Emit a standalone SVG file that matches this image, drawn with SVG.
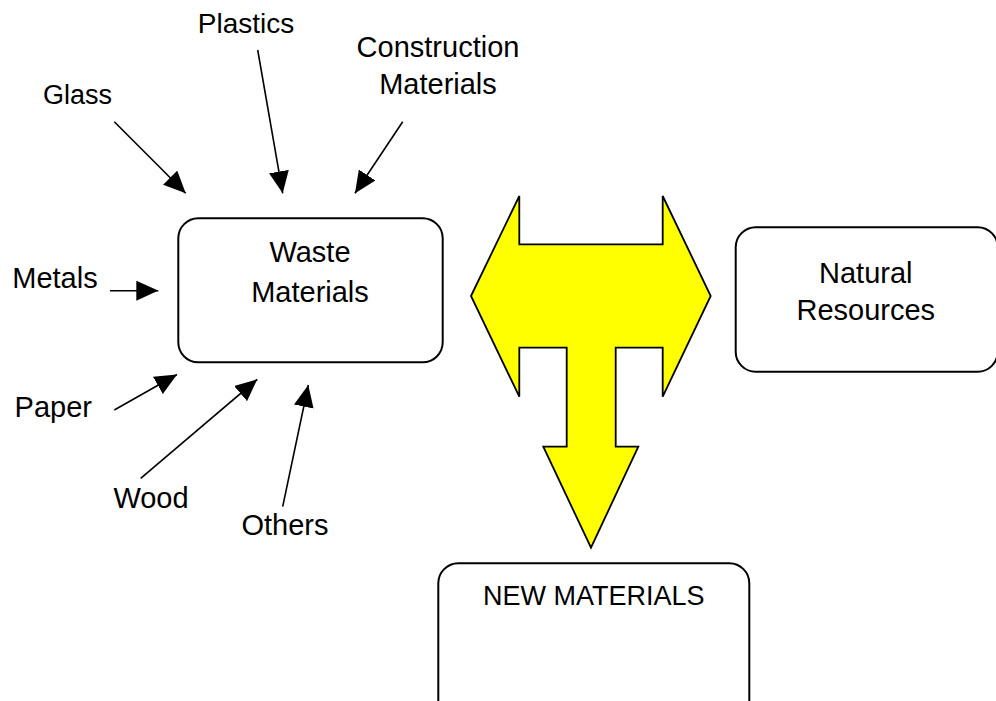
<svg xmlns="http://www.w3.org/2000/svg" width="996" height="701" viewBox="0 0 996 701">
  <defs>
    <style>
      .lbl { font-family: "Liberation Sans", Arial, sans-serif; font-size: 29px; fill: #000; text-anchor: middle; }
      .sm { font-size: 27px; }
      .md { font-size: 28px; }
      .box { fill: #fff; stroke: #000; stroke-width: 2; }
      .con { stroke: #000; stroke-width: 1.6; fill: none; marker-end: url(#head); }
    </style>
    <marker id="head" markerUnits="userSpaceOnUse" markerWidth="22" markerHeight="20" refX="22" refY="10" orient="auto">
      <path d="M0,0 L22,10 L0,20 Z" fill="#000"/>
    </marker>
  </defs>
  <rect width="996" height="701" fill="#fff"/>

  <!-- source labels -->
  <g id="glass"><text class="lbl sm" x="77.5" y="104">Glass</text></g>
  <g id="plastics"><text class="lbl md" x="246" y="32.7">Plastics</text></g>
  <g id="construction">
    <text class="lbl" x="438" y="56.7">Construction</text>
    <text class="lbl" x="438" y="94">Materials</text>
  </g>
  <g id="metals"><text class="lbl" x="55" y="288.3">Metals</text></g>
  <g id="paper"><text class="lbl" x="53.3" y="416.7">Paper</text></g>
  <g id="wood"><text class="lbl" x="151" y="508.3">Wood</text></g>
  <g id="others"><text class="lbl" x="285" y="535">Others</text></g>

  <!-- main boxes -->
  <g id="waste">
    <rect class="box" x="178.3" y="218.3" width="264.4" height="144" rx="20" ry="20"/>
    <text class="lbl" x="310" y="261.7">Waste</text>
    <text class="lbl" x="310" y="301.7">Materials</text>
  </g>
  <g id="natural">
    <rect class="box" x="735.7" y="227.3" width="262" height="144.4" rx="20" ry="20"/>
    <text class="lbl" x="865.8" y="282.7">Natural</text>
    <text class="lbl" x="865.8" y="320">Resources</text>
  </g>
  <g id="new-materials">
    <rect class="box" x="438.3" y="563.3" width="311" height="160" rx="20" ry="20"/>
    <text class="lbl sm" x="593.7" y="605">NEW MATERIALS</text>
  </g>

  <!-- combined two-way / downward block arrow -->
  <g id="exchange">
    <path d="M471,296 L519.3,196 L519.3,244.3 L662.7,244.3 L662.7,196 L710.7,296 L662.7,396.7 L662.7,347.7 L615.7,347.7 L615.7,446.7 L638.3,446.7 L591,547.7 L543.3,446.7 L566.7,446.7 L566.7,347.7 L519.3,347.7 L519.3,396.7 Z"
          fill="#ffff00" stroke="#000" stroke-width="1.8" stroke-linejoin="miter"/>
  </g>

  <!-- connectors into the waste box -->
  <g id="connectors">
    <line class="con" x1="114.3" y1="121.7" x2="185.7" y2="193.3"/>
    <line class="con" x1="257.7" y1="50" x2="282.7" y2="193.3"/>
    <line class="con" x1="402.7" y1="121.7" x2="355" y2="193.3"/>
    <line class="con" x1="110" y1="290.7" x2="158.3" y2="290.7"/>
    <line class="con" x1="114.3" y1="410" x2="177" y2="374.5"/>
    <line class="con" x1="140.7" y1="478.3" x2="257.3" y2="379.3"/>
    <line class="con" x1="282.7" y1="506.7" x2="308.3" y2="385"/>
  </g>
</svg>
